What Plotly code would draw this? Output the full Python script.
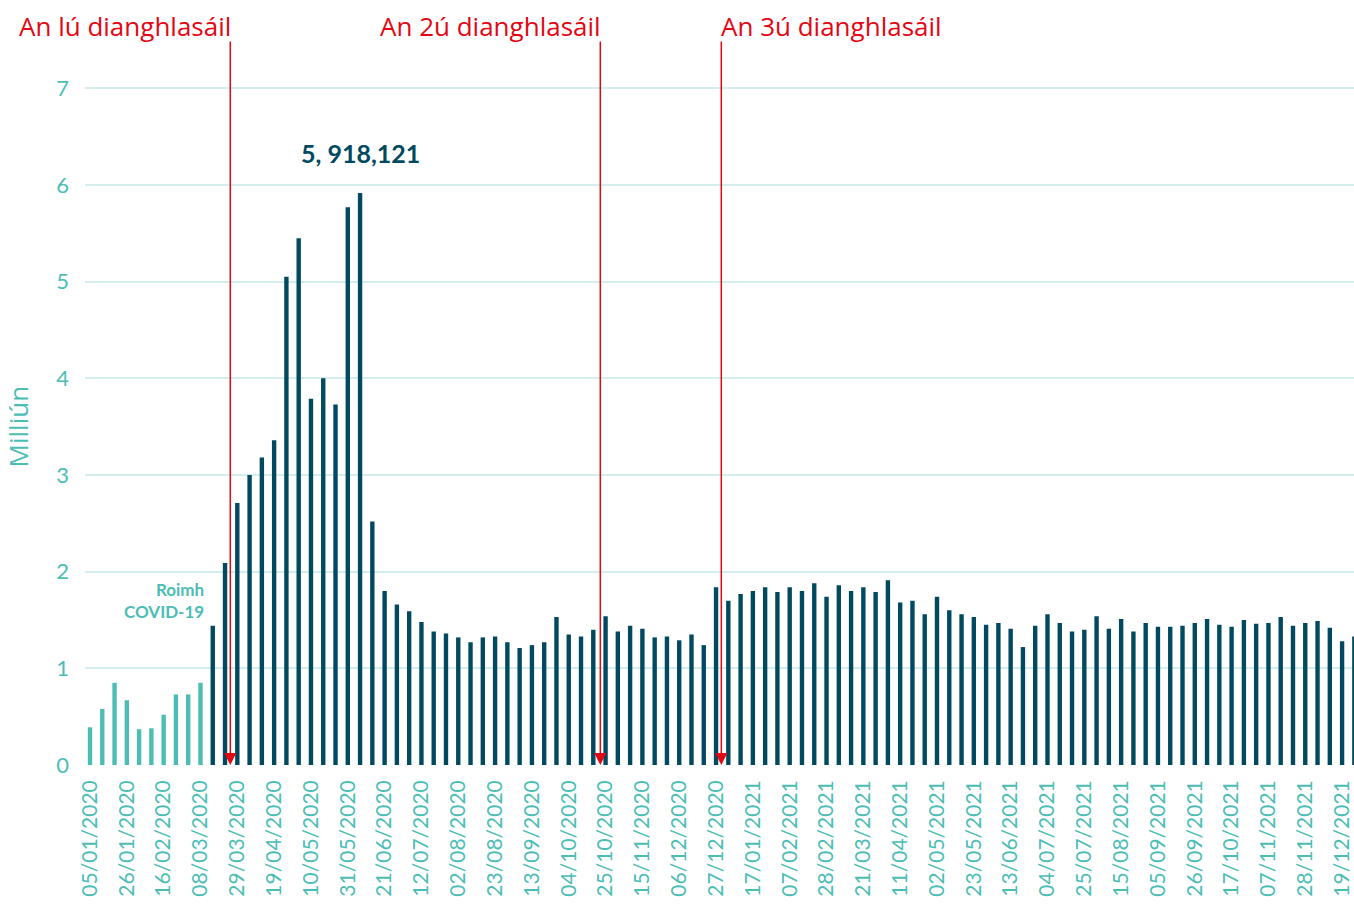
import pandas as pd
import plotly.graph_objects as go

# ---- data ----
start_week = "2020-01-05"
values_pre_covid = [0.39, 0.58, 0.85, 0.67, 0.37, 0.38, 0.52, 0.73, 0.73, 0.85]
values_covid = [
    1.44, 2.09, 2.71, 3.00, 3.18, 3.36, 5.05, 5.45, 3.79, 4.00,
    3.73, 5.77, 5.918121, 2.52, 1.80, 1.66, 1.59, 1.48, 1.38, 1.36,
    1.32, 1.27, 1.32, 1.33, 1.27, 1.21, 1.24, 1.27, 1.53, 1.35,
    1.33, 1.40, 1.54, 1.38, 1.44, 1.41, 1.32, 1.33, 1.29, 1.35,
    1.24, 1.84, 1.70, 1.77, 1.80, 1.84, 1.79, 1.84, 1.80, 1.88,
    1.74, 1.86, 1.80, 1.84, 1.79, 1.91, 1.68, 1.70, 1.56, 1.74,
    1.60, 1.56, 1.53, 1.45, 1.47, 1.41, 1.22, 1.44, 1.56, 1.47,
    1.38, 1.40, 1.54, 1.41, 1.51, 1.38, 1.47, 1.43, 1.43, 1.44,
    1.47, 1.51, 1.45, 1.43, 1.50, 1.46, 1.47, 1.53, 1.44, 1.47,
    1.49, 1.42, 1.28, 1.33,
]
tick_labels = [
    "05/01/2020", "26/01/2020", "16/02/2020", "08/03/2020", "29/03/2020",
    "19/04/2020", "10/05/2020", "31/05/2020", "21/06/2020", "12/07/2020",
    "02/08/2020", "23/08/2020", "13/09/2020", "04/10/2020", "25/10/2020",
    "15/11/2020", "06/12/2020", "27/12/2020", "17/01/2021", "07/02/2021",
    "28/02/2021", "21/03/2021", "11/04/2021", "02/05/2021", "23/05/2021",
    "13/06/2021", "04/07/2021", "25/07/2021", "15/08/2021", "05/09/2021",
    "26/09/2021", "17/10/2021", "07/11/2021", "28/11/2021", "19/12/2021",
]
lockdown_dates = ["2020-03-25", "2020-10-22", "2020-12-30"]
lockdown_labels = ["An lú dianghlasáil", "An 2ú dianghlasáil", "An 3ú dianghlasáil"]
peak_label = "5, 918,121"
pre_label = "Roimh<br>COVID-19"
y_title = "Milliún"

# ---- derived ----
weeks = pd.date_range(start_week, periods=len(values_pre_covid) + len(values_covid), freq="7D")
weeks_pre = weeks[: len(values_pre_covid)]
weeks_covid = weeks[len(values_pre_covid):]
tick_vals = pd.to_datetime(tick_labels, format="%d/%m/%Y")

TEAL = "#4cbdb5"
DARK = "#00495f"
RED = "#e30613"
GRID = "#d4eeed"
FONT = "Lato"
FONT2 = "Open Sans"
BAR_W = 2.5 * 24 * 3600 * 1000

fig = go.Figure()
fig.add_trace(go.Bar(x=weeks_pre, y=values_pre_covid, marker_color=TEAL,
                     marker_line_width=0, width=BAR_W, showlegend=False))
fig.add_trace(go.Bar(x=weeks_covid, y=values_covid, marker_color=DARK,
                     marker_line_width=0, width=BAR_W, showlegend=False))

ann = []
for i, (d, lab) in enumerate(zip(lockdown_dates, lockdown_labels)):
    ann.append(dict(x=d, y=0, ax=d, ay=7.5, xref="x", yref="y", axref="x", ayref="y",
                    showarrow=True, arrowhead=2, arrowsize=1.6, arrowwidth=1.5,
                    arrowcolor=RED, text="", standoff=0))
    ann.append(dict(x=d, y=1.019, xref="x", yref="paper", text=lab, showarrow=False,
                    xanchor="left" if i == 2 else "right", yanchor="middle",
                    xshift=-2 if i == 2 else 3,
                    font=dict(family=FONT2, size=26, color=RED)))

peak_idx = values_covid.index(max(values_covid))
ann.append(dict(x=weeks_covid[peak_idx], y=6.33, xref="x", yref="y", text=f"<b>{peak_label}</b>",
                showarrow=False, xanchor="center", yanchor="middle",
                font=dict(family=FONT, size=25, color=DARK)))
ann.append(dict(x=weeks_pre[-1], y=1.70, xref="x", yref="y", text=f"<b>{pre_label}</b>",
                showarrow=False, xanchor="right", yanchor="middle", xshift=6, align="right",
                font=dict(family=FONT, size=17, color=TEAL)))
ann.append(dict(x=-0.053, y=3.5, xref="paper", yref="y", text=y_title, textangle=-90,
                showarrow=False, xanchor="center", yanchor="middle",
                font=dict(family=FONT2, size=26, color=TEAL)))

fig.update_layout(
    width=1354, height=913,
    margin=dict(l=85, r=0, t=40, b=148, autoexpand=False),
    plot_bgcolor="white", paper_bgcolor="white",
    barmode="overlay",
    font=dict(family=FONT, color=TEAL),
    annotations=ann,
    xaxis=dict(
        type="date",
        range=["2020-01-02 03:30", "2021-12-25 19:00"],
        tickvals=tick_vals, ticktext=tick_labels, tickangle=-90,
        tickfont=dict(family=FONT, size=21, color=TEAL),
        showgrid=False, zeroline=False, showline=False, ticks="",
        ticklabelstandoff=10, automargin=False,
    ),
    yaxis=dict(
        range=[0, 7.5],
        tickvals=[0, 1, 2, 3, 4, 5, 6, 7],
        tickfont=dict(family=FONT, size=22, color=TEAL),
        showgrid=True, gridcolor=GRID, gridwidth=1.5,
        zeroline=False, showline=False, ticks="",
        ticklabelstandoff=15, automargin=False,
    ),
)

fig.write_html("out.html", config={"displayModeBar": False},
               post_script="document.body.style.margin='0';")
